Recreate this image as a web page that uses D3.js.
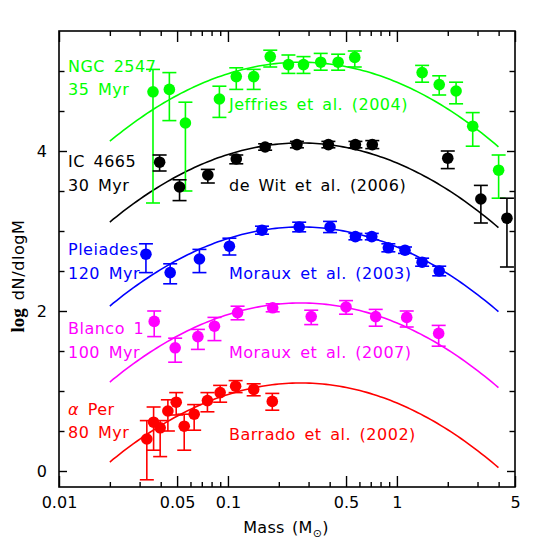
<!DOCTYPE html>
<html>
<head>
<meta charset="utf-8">
<script src="https://cdn.jsdelivr.net/npm/d3@7"></script>
<style>
body{margin:0;background:#fff}
text{font-family:"DejaVu Sans",sans-serif}
</style>
</head>
<body>
<svg></svg>
<script>
// NGC 2547 - Jeffries et al. (2004)
var ngcMass = [0.036,0.045,0.056,0.089,0.112,0.142,0.178,0.228,0.280,0.354,0.449,0.563,1.41,1.78,2.24,2.81,4.0]
var ngcVal  = [4.74,4.77,4.35,4.65,4.93,4.93,5.18,5.08,5.08,5.11,5.11,5.17,4.98,4.83,4.75,4.31,3.76]
var ngcHi   = [5.02,4.98,4.61,4.81,5.04,5.02,5.26,5.20,5.18,5.22,5.21,5.25,5.07,4.94,4.86,4.48,3.95]
var ngcLo   = [3.35,4.38,3.50,4.42,4.77,4.77,5.05,4.97,4.97,5.01,5.01,5.05,4.86,4.70,4.59,4.06,3.41]

// IC 4665 - de Wit et al. (2006)
var icMass = [0.0394,0.0517,0.076,0.112,0.166,0.256,0.393,0.568,0.715,2.0,3.14,4.48]
var icVal  = [3.86,3.55,3.70,3.90,4.05,4.08,4.08,4.08,4.08,3.91,3.40,3.16]
var icHi   = [3.95,3.64,3.77,3.95,4.09,4.12,4.12,4.12,4.13,4.00,3.57,3.41]
var icLo   = [3.75,3.38,3.60,3.84,4.01,4.04,4.04,4.04,4.03,3.78,3.10,2.55]

// Pleiades - Moraux et al. (2003)
var plMass = [0.0327,0.0455,0.0678,0.102,0.159,0.264,0.402,0.568,0.710,0.890,1.117,1.41,1.78]
var plVal  = [2.71,2.48,2.65,2.81,3.01,3.05,3.05,2.93,2.93,2.79,2.76,2.61,2.50]
var plHi   = [2.84,2.59,2.77,2.91,3.06,3.11,3.12,2.97,2.97,2.84,2.80,2.66,2.56]
var plLo   = [2.48,2.34,2.48,2.70,2.96,2.99,2.98,2.89,2.89,2.74,2.72,2.56,2.44]

// Blanco 1 - Moraux et al. (2007)
var blMass = [0.0366,0.0487,0.0664,0.0832,0.114,0.184,0.311,0.500,0.749,1.143,1.767]
var blVal  = [1.87,1.54,1.68,1.81,1.98,2.04,1.93,2.05,1.93,1.92,1.72]
var blHi   = [2.00,1.66,1.77,1.92,2.06,2.09,2.01,2.13,2.02,2.00,1.82]
var blLo   = [1.68,1.36,1.52,1.63,1.89,1.99,1.83,1.96,1.81,1.80,1.56]

// alpha Per - Barrado et al. (2002)
var apMass = [0.0331,0.0363,0.0397,0.0441,0.0494,0.0551,0.0631,0.0756,0.0899,0.111,0.142,0.183]
var apVal  = [0.40,0.61,0.54,0.75,0.86,0.56,0.71,0.88,0.98,1.06,1.02,0.87]
var apHi   = [0.63,0.80,0.63,0.89,0.98,0.71,0.83,0.98,1.07,1.13,1.09,0.97]
var apLo   = [-0.11,0.26,0.18,0.50,0.70,0.26,0.51,0.74,0.86,0.98,0.94,0.76]

// lognormal fits: peak of log dN/dlogM, same Mc and sigma for all
var fitPeak = [5.11,4.10,3.05,2.10,1.10]
var fitMc = 0.27
var fitSigma = 0.53
var fitRange = [0.02,4.0]

var clusterNames = ["NGC 2547","IC 4665","Pleiades","Blanco 1","\u03b1 Per"]
var clusterAges  = ["35 Myr","30 Myr","120 Myr","100 Myr","80 Myr"]
var refLabels    = ["Jeffries et al. (2004)","de Wit et al. (2006)","Moraux et al. (2003)","Moraux et al. (2007)","Barrado et al. (2002)"]
var colors       = ["#00ff00","#000000","#0000ff","#ff00ff","#ff0000"]

var xMajor = [0.01,0.05,0.1,0.5,1,5]
var xMinor = [0.02,0.03,0.04,0.06,0.07,0.08,0.09,0.2,0.3,0.4,0.6,0.7,0.8,0.9,2,3,4]
var yMajor = [0,2,4]
var yMinor = [0.5,1,1.5,2.5,3,3.5,4.5,5]

var sets = [
  {mass:ngcMass,val:ngcVal,hi:ngcHi,lo:ngcLo},
  {mass:icMass,val:icVal,hi:icHi,lo:icLo},
  {mass:plMass,val:plVal,hi:plHi,lo:plLo},
  {mass:blMass,val:blVal,hi:blHi,lo:blLo},
  {mass:apMass,val:apVal,hi:apHi,lo:apLo}
]

var screen = {width:545, height:545}
var margins = {top:31, right:30, bottom:58, left:59}
var width = screen.width - margins.left - margins.right
var height = screen.height - margins.top - margins.bottom

var svg = d3.select("svg")
    .attr("width",screen.width)
    .attr("height",screen.height)

var g = svg.append("g")
    .attr("transform","translate("+margins.left+","+margins.top+")")

var xScale = d3.scaleLog().domain([0.01,5]).range([0,width])
var yScale = d3.scaleLinear().domain([-0.2,5.5]).range([height,0])

var fmt = function(d){ return String(d) }

// axes, ticks pointing inward
var axes = [
  {ax:d3.axisBottom(xScale).tickValues(xMajor).tickFormat(fmt).tickSize(-11).tickPadding(10), t:"translate(0,"+height+")"},
  {ax:d3.axisBottom(xScale).tickValues(xMinor).tickFormat("").tickSize(-5), t:"translate(0,"+height+")"},
  {ax:d3.axisTop(xScale).tickValues(xMajor).tickFormat("").tickSize(-11), t:null},
  {ax:d3.axisTop(xScale).tickValues(xMinor).tickFormat("").tickSize(-5), t:null},
  {ax:d3.axisLeft(yScale).tickValues(yMajor).tickFormat(fmt).tickSize(-8).tickPadding(12), t:null},
  {ax:d3.axisLeft(yScale).tickValues(yMinor).tickFormat("").tickSize(-5.5), t:null},
  {ax:d3.axisRight(yScale).tickValues(yMajor).tickFormat("").tickSize(-8), t:"translate("+width+",0)"},
  {ax:d3.axisRight(yScale).tickValues(yMinor).tickFormat("").tickSize(-5.5), t:"translate("+width+",0)"}
]
axes.forEach(function(a){
  var ag = g.append("g").attr("class","axis")
  if(a.t) ag.attr("transform",a.t)
  ag.call(a.ax)
  ag.select(".domain").remove()
  ag.selectAll("line").attr("stroke","#000").attr("stroke-width",1.4)
  ag.selectAll("text").attr("fill","#000")
    .style("font-family","'DejaVu Sans',sans-serif").style("font-size","16px")
})

g.append("rect")
  .attr("width",width).attr("height",height)
  .attr("fill","none").attr("stroke","#000").attr("stroke-width",1.6)

// fitted curves
var logGrid = d3.range(Math.log10(fitRange[0]), Math.log10(fitRange[1])+0.001, 0.02)
var line = d3.line()
  .x(function(d){ return xScale(d[0]) })
  .y(function(d){ return yScale(d[1]) })

fitPeak.forEach(function(peak,i){
  var pts = logGrid.map(function(l){
    var v = peak - Math.pow(l - Math.log10(fitMc),2)/(2*fitSigma*fitSigma)*Math.LOG10E
    return [Math.pow(10,l), v]
  })
  g.append("path").datum(pts)
    .attr("d",line)
    .attr("fill","none")
    .attr("stroke",colors[i])
    .attr("stroke-width",1.6)
})

// data points with error bars
var cap = 7
sets.forEach(function(s,i){
  var rows = s.mass.map(function(m,j){ return {m:m,v:s.val[j],hi:s.hi[j],lo:s.lo[j]} })
  var sg = g.append("g").attr("stroke",colors[i]).attr("fill",colors[i]).attr("stroke-width",1.6)
  var eb = sg.selectAll(".eb").data(rows).enter().append("g").attr("class","eb")
  eb.append("line")
    .attr("x1",function(d){ return xScale(d.m) }).attr("x2",function(d){ return xScale(d.m) })
    .attr("y1",function(d){ return yScale(d.hi) }).attr("y2",function(d){ return yScale(d.lo) })
  eb.append("line")
    .attr("x1",function(d){ return xScale(d.m)-cap }).attr("x2",function(d){ return xScale(d.m)+cap })
    .attr("y1",function(d){ return yScale(d.hi) }).attr("y2",function(d){ return yScale(d.hi) })
  eb.append("line")
    .attr("x1",function(d){ return xScale(d.m)-cap }).attr("x2",function(d){ return xScale(d.m)+cap })
    .attr("y1",function(d){ return yScale(d.lo) }).attr("y2",function(d){ return yScale(d.lo) })
  sg.selectAll("circle").data(rows).enter().append("circle")
    .attr("cx",function(d){ return xScale(d.m) })
    .attr("cy",function(d){ return yScale(d.v) })
    .attr("r",5.8)
    .attr("stroke","none")
})

// cluster labels (left) and references (right), in svg coordinates
var nameY = [72,167,255,334,415]
var ageY  = [95,191,279,358,438]
var refY  = [110,191,279,358,440]
var label = function(x,y,c){
  return svg.append("text").attr("x",x).attr("y",y).attr("fill",c)
    .style("font-size","16px").style("letter-spacing","0.5px").style("word-spacing","3px")
}
clusterNames.forEach(function(n,i){
  var t = label(68,nameY[i],colors[i])
  if(n.charAt(0)=="\u03b1"){
    t.append("tspan").style("font-style","italic").text("\u03b1")
    t.append("tspan").text(n.slice(1))
  } else t.text(n)
  label(68,ageY[i],colors[i]).text(clusterAges[i])
  label(229,refY[i],colors[i]).text(refLabels[i])
})

// axis titles
var xt = svg.append("text").attr("x",286).attr("y",533).attr("text-anchor","middle")
  .style("font-size","16px").style("letter-spacing","0.3px").style("word-spacing","2px")
xt.append("tspan").text("Mass (M")
xt.append("tspan").attr("dy",4).style("font-size","11px").text("\u2299")
xt.append("tspan").attr("dy",-4).text(")")

var yt = svg.append("text").attr("transform","translate(24,276) rotate(-90)").attr("text-anchor","middle")
yt.append("tspan").style("font-family","'Liberation Serif',serif").style("font-weight","bold").style("font-size","19px").text("log")
yt.append("tspan").style("font-size","16px").style("letter-spacing","0.6px").attr("dx",8).text("dN/dlogM")
</script>
</body>
</html>
